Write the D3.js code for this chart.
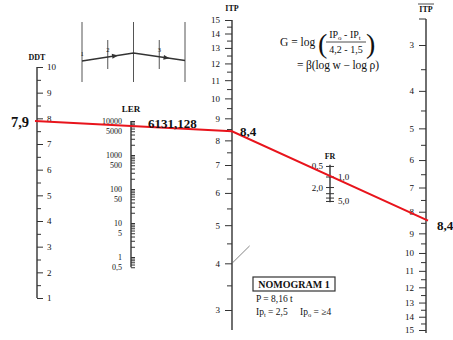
<!DOCTYPE html>
<html>
<head>
<meta charset="utf-8">
<script src="https://cdn.jsdelivr.net/npm/d3@7/dist/d3.min.js"></script>
<style>
  body { margin: 0; background: #fff; }
  text { font-family: "Liberation Serif", "DejaVu Serif", serif; fill: #111; }
  .tick line, .axis-line { stroke: #333; }
</style>
</head>
<body>
<svg id="chart" width="453" height="340"></svg>
<script>
// scale values
const ddtMajor = [1, 2, 3, 4, 5, 6, 7, 8, 9, 10];
const ddtMinor = [1.5, 2.5, 3.5, 4.5, 5.5, 6.5, 7.5, 8.5, 9.5];
const lerLabels = [0.5, 1, 5, 10, 50, 100, 500, 1000, 5000, 10000];
const lerLabelText = ['0,5', '1', '5', '10', '50', '100', '500', '1000', '5000', '10000'];
const itpMajor = [3, 4, 5, 6, 7, 8, 9, 10, 11, 12, 13, 14, 15];
const itpMinor = [3.5, 4.5, 5.5, 6.5, 7.5, 8.5, 9.5, 10.5, 11.5, 12.5, 13.5, 14.5];
const frTicks = [0.5, 1, 2, 3, 4, 5];
const frLabels = [0.5, 1, 2, 5];
const frLabelText = ['0,5', '1,0', '2,0', '5,0'];

// the reading
const ddtValue = 7.9;
const lerValue = 6131.128;
const itpValue = 8.4;
const itpBarValue = 8.4;

// inset sketch: positions 0..4 along the sketch, level of the path
const insetStems = [0, 2, 4];
const insetShort = [1, 3];
const insetPath = [[0, 0.2], [2, 1], [4, 0.25]];
const insetNums = [[0, '1', 0.2], [1, '2', 0.62], [3, '3', 0.62]];

const svg = d3.select('#chart');

const x = { ddt: 37, ler: 131, itp: 232, fr: 330, itpBar: 426 };

const ddtY = d3.scaleLinear().domain([1, 10]).range([298, 67]);
const lerY = d3.scaleLog().domain([1, 10000]).range([257, 121]);
// ITP scales are log(ITP + 1)
const itpY = d3.scaleLog().domain([4, 16]).range([310, 20]);
const itpBarY = d3.scaleLog().domain([4, 16]).range([45, 330]);
const frY = d3.scaleLog().domain([1, 10]).range([177, 212]);

function axisLine(xp, y1, y2) {
  svg.append('line').attr('class', 'axis-line')
    .attr('x1', xp).attr('x2', xp).attr('y1', y1).attr('y2', y2)
    .attr('stroke-width', 1.4);
}

function title(xp, yp, txt, size) {
  return svg.append('text').attr('x', xp).attr('y', yp)
    .attr('text-anchor', 'middle').attr('font-weight', 'bold')
    .attr('font-size', size || 8).text(txt);
}

function addAxis(axis, xp) {
  const g = svg.append('g').attr('transform', `translate(${xp},0)`).call(axis);
  g.select('.domain').remove();
  g.selectAll('text').attr('font-size', 9).attr('fill', '#111');
  return g;
}

// DDT
axisLine(x.ddt, ddtY(10), ddtY(1));
addAxis(d3.axisRight(ddtY).tickValues(ddtMajor).tickSize(6).tickPadding(4).tickFormat(d3.format('d')), x.ddt);
addAxis(d3.axisRight(ddtY).tickValues(ddtMinor).tickSize(4).tickFormat(''), x.ddt);
title(x.ddt, 60, 'DDT');

// LER
axisLine(x.ler, lerY(0.5), lerY(10000));
const lerMinor = lerY.copy().domain([0.5, 10000]).ticks();
addAxis(d3.axisRight(lerY).tickValues(lerMinor.filter(d => d >= 0.5 && d <= 10000)).tickSize(4).tickFormat(''), x.ler);
const lerLab = addAxis(d3.axisLeft(lerY).tickValues(lerLabels).tickSize(0).tickPadding(9)
  .tickFormat((d, i) => lerLabelText[i]), x.ler);
lerLab.selectAll('text').attr('font-size', 8);
title(x.ler, 112, 'LER', 9);

// ITP (middle)
axisLine(x.itp, itpY(16), 330);
addAxis(d3.axisLeft(itpY).tickValues(itpMajor.map(v => v + 1)).tickSize(7).tickPadding(5)
  .tickFormat(d => d - 1), x.itp);
addAxis(d3.axisLeft(itpY).tickValues(itpMinor.map(v => v + 1)).tickSize(5).tickFormat(''), x.itp);
title(x.itp, 11, 'ITP');

// ITP bar (right)
axisLine(x.itpBar, 19, 333);
addAxis(d3.axisLeft(itpBarY).tickValues(itpMajor.map(v => v + 1)).tickSize(7).tickPadding(5)
  .tickFormat(d => d - 1), x.itpBar);
addAxis(d3.axisLeft(itpBarY).tickValues(itpMinor.map(v => v + 1)).tickSize(5).tickFormat(''), x.itpBar);
svg.append('line').attr('class', 'axis-line').attr('x1', x.itpBar - 7).attr('x2', x.itpBar).attr('y1', 19).attr('y2', 19);
title(x.itpBar, 12, 'ITP');
svg.append('line').attr('x1', x.itpBar - 8).attr('x2', x.itpBar + 8).attr('y1', 4).attr('y2', 4)
  .attr('stroke', '#222').attr('stroke-width', 0.8);

// FR
axisLine(x.fr, frY(0.45), frY(5.3));
frTicks.forEach(v => {
  svg.append('line').attr('class', 'axis-line').attr('stroke-width', 1)
    .attr('x1', x.fr - 4).attr('x2', x.fr + 4).attr('y1', frY(v)).attr('y2', frY(v));
});
frLabels.forEach((v, i) => {
  const left = i % 2 === 0;
  svg.append('text').attr('x', left ? x.fr - 7 : x.fr + 8).attr('y', frY(v) + 3)
    .attr('text-anchor', left ? 'end' : 'start').attr('font-size', 9).text(frLabelText[i]);
});
title(x.fr, 159, 'FR');

// faint leftover line from ITP 4 toward FR 0,5
const p0 = [x.itp, itpY(4 + 1)], p1 = [x.fr, frY(0.5)];
svg.append('line').attr('x1', p0[0]).attr('y1', p0[1])
  .attr('x2', p0[0] + (p1[0] - p0[0]) * 0.18).attr('y2', p0[1] + (p1[1] - p0[1]) * 0.18)
  .attr('stroke', '#666').attr('stroke-width', 0.8);

// inset sketch
const ix = d3.scaleLinear().domain([0, 4]).range([82, 185]);
const iy = d3.scaleLinear().domain([0, 1]).range([63, 53]);
insetStems.forEach(p => {
  svg.append('line').attr('x1', ix(p)).attr('x2', ix(p)).attr('y1', 22).attr('y2', 82)
    .attr('stroke', '#555').attr('stroke-width', 1);
});
insetShort.forEach(p => {
  svg.append('line').attr('x1', ix(p)).attr('x2', ix(p)).attr('y1', 40).attr('y2', 69)
    .attr('stroke', '#555').attr('stroke-width', 1);
});
svg.append('path').datum(insetPath)
  .attr('d', d3.line().x(d => ix(d[0])).y(d => iy(d[1])))
  .attr('fill', 'none').attr('stroke', '#333').attr('stroke-width', 1.3);
[1.4, 3.4].forEach(a => {
  const s = insetPath.find(d => d[0] <= a && d[0] + 2 >= a);
  const e = insetPath[insetPath.indexOf(s) + 1];
  const t = (a - s[0]) / (e[0] - s[0]);
  const px = ix(a), py = iy(s[1] + (e[1] - s[1]) * t);
  const ang = Math.atan2(iy(e[1]) - iy(s[1]), ix(e[0]) - ix(s[0])) * 180 / Math.PI;
  svg.append('path').attr('d', 'M0,0 L-6,-2.5 L-6,2.5 Z')
    .attr('transform', `translate(${px},${py}) rotate(${ang})`).attr('fill', '#333');
});
insetNums.forEach(([p, t, lvl]) => {
  svg.append('text').attr('x', ix(p)).attr('y', iy(lvl) - 5)
    .attr('text-anchor', 'middle').attr('font-size', 6.5).text(t);
});

// formula
const f = svg.append('g');
f.append('text').attr('x', 280).attr('y', 46).attr('font-size', 11.5).text('G = log');
f.append('text').attr('x', 318).attr('y', 53).attr('font-size', 28).attr('font-weight', 200).text('(');
f.append('text').attr('x', 366).attr('y', 53).attr('font-size', 28).attr('font-weight', 200).text(')');
const num = f.append('text').attr('x', 345).attr('y', 38).attr('text-anchor', 'middle').attr('font-size', 10);
num.append('tspan').text('IP');
num.append('tspan').attr('font-size', 7).attr('dy', 2).text('o');
num.append('tspan').attr('dy', -2).text(' - IP');
num.append('tspan').attr('font-size', 7).attr('dy', 2).text('t');
f.append('line').attr('x1', 326).attr('x2', 366).attr('y1', 42).attr('y2', 42).attr('stroke', '#222').attr('stroke-width', 0.8);
f.append('text').attr('x', 346).attr('y', 53).attr('text-anchor', 'middle').attr('font-size', 10).text('4,2  -  1,5');
f.append('text').attr('x', 297).attr('y', 69).attr('font-size', 11.5).attr('textLength', 82).text('= β(log w − log ρ)');

// NOMOGRAM box
svg.append('rect').attr('x', 253).attr('y', 277).attr('width', 82).attr('height', 14)
  .attr('fill', 'none').attr('stroke', '#333').attr('stroke-width', 1.2);
svg.append('text').attr('x', 294).attr('y', 288).attr('text-anchor', 'middle')
  .attr('font-size', 10).attr('font-weight', 'bold').text('NOMOGRAM 1');
svg.append('text').attr('x', 256).attr('y', 302).attr('font-size', 9.5).text('P =  8,16 t');
const ip = svg.append('text').attr('x', 256).attr('y', 315).attr('font-size', 9.5);
ip.append('tspan').text('Ip');
ip.append('tspan').attr('font-size', 6.5).attr('dy', 2).text('t');
ip.append('tspan').attr('dy', -2).text('  = 2,5');
ip.append('tspan').attr('x', 300).text('Ip');
ip.append('tspan').attr('font-size', 6.5).attr('dy', 2).text('o');
ip.append('tspan').attr('dy', -2).text(' = ≥4');

// red reading line
const readPts = [
  [x.ddt - 2, ddtY(ddtValue)],
  [x.itp, itpY(itpValue + 1)],
  [x.itpBar + 2, itpBarY(itpBarValue + 1)]
];
svg.append('path').datum(readPts).attr('d', d3.line())
  .attr('fill', 'none').attr('stroke', '#e8141c').attr('stroke-width', 2);

const bold = (xp, yp, t, anchor, size) => svg.append('text').attr('x', xp).attr('y', yp)
  .attr('text-anchor', anchor).attr('font-weight', 'bold').attr('font-size', size).text(t);
bold(29, ddtY(ddtValue) + 6, '7,9', 'end', 14.5);
bold(148, lerY(lerValue), '6131,128', 'start', 13);
bold(240, itpY(itpValue + 1) + 5, '8,4', 'start', 13);
bold(437, itpBarY(itpBarValue + 1) + 9, '8,4', 'start', 13);
</script>
</body>
</html>
